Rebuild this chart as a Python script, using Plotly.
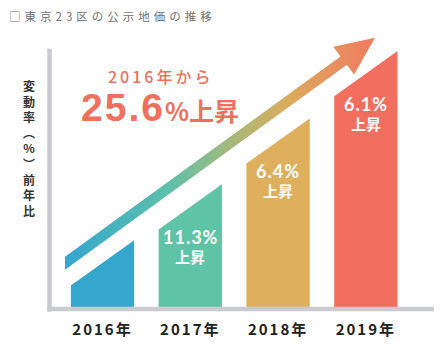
import numpy as np
import plotly.graph_objects as go

# ---------------- data ----------------
years = ["2016年", "2017年", "2018年", "2019年"]
bar_heights = [47, 104, 171, 239.5]          # visual bar height (at bar centre)
change_rates = [None, 11.3, 6.4, 6.1]         # yearly change (%)
total_change = 25.6                           # change since 2016 (%)
bar_colors = ["#35a7cc", "#5fc4a6", "#deaf5c", "#f26e5f"]
title_text = "□東京23区の公示地価の推移"
y_label = "変動率(%)前年比"
since_text = "2016年から"
rise_word = "上昇"

# ---------------- style ----------------
FONT = "Noto Sans CJK JP"
LATIN = "Lato"
BIGNUM = "Liberation Sans"
W, H = 447, 351
ML, MR, MT, MB = 50, 13, 30, 37
PW, PH = W - ML - MR, H - MT - MB
XR = [-0.598, 3.776]
YR = [0, 284]
BAR_W = 0.721
SLANT = 46                      # rise of the slanted top across a bar
PX_X = PW / (XR[1] - XR[0])     # pixels per x unit
CORAL = "#f06f5d"

def px_x(p):   # pixel column -> x data
    return (p - ML) / PX_X + XR[0]

def px_y(p):   # pixel row -> y data
    return (H - MB) - p

fig = go.Figure()

# bars with slanted tops
for i, h in enumerate(bar_heights):
    x0, x1 = i - BAR_W / 2, i + BAR_W / 2
    yl, yr = h - SLANT / 2, h + SLANT / 2
    fig.add_trace(go.Scatter(
        x=[x0, x1, x1, x0, x0], y=[0, 0, yr, yl, 0],
        mode="lines", fill="toself", fillcolor=bar_colors[i],
        line=dict(width=0), hoverinfo="skip", showlegend=False))

# trend arrow (built in pixel-like space, then mapped back to data units)
tail_x, tail_y = -0.427, bar_heights[0] - 0.5
tip_x, tip_y = 3.104, bar_heights[-1] + 36.5
T = np.array([tail_x * PX_X, tail_y])
P = np.array([tip_x * PX_X, tip_y])
u = (P - T) / np.linalg.norm(P - T)
n = np.array([-u[1], u[0]])
shaft_t, head_w, head_l = 5.3, 17.5, 39
B = P - u * head_l
cos_t = u[0]
pts = [
    T + np.array([0, -shaft_t / cos_t]),
    B - n * shaft_t,
    B - n * head_w,
    P,
    B + n * head_w,
    B + n * shaft_t,
    T + np.array([0, shaft_t / cos_t]),
]
pts.append(pts[0])
fig.add_trace(go.Scatter(
    x=[p[0] / PX_X for p in pts], y=[p[1] for p in pts],
    mode="lines", fill="toself",
    fillgradient=dict(type="horizontal", colorscale=[
        [0.0, "#35a6d0"], [0.33, "#5cc0aa"], [0.55, "#a9b878"],
        [0.72, "#dcab5d"], [1.0, "#f07b5f"]]),
    line=dict(width=0), hoverinfo="skip", showlegend=False))

annotations = []
# labels inside bars (two separate lines)
for i, r in enumerate(change_rates):
    if r is None:
        continue
    yl = bar_heights[i] - SLANT / 2
    annotations.append(dict(
        x=i, y=yl - 8, xref="x", yref="y", showarrow=False,
        text=f"<span style='letter-spacing:1px'>{r}%</span>",
        font=dict(family=LATIN, size=18, color="white", weight=700),
        xanchor="center", yanchor="middle"))
    annotations.append(dict(
        x=i, y=yl - 27.5, xref="x", yref="y", showarrow=False,
        text=rise_word,
        font=dict(family=FONT, size=15, color="white", weight=700),
        xanchor="center", yanchor="middle"))

# headline
annotations.append(dict(
    x=px_x(160), y=px_y(77), xref="x", yref="y", showarrow=False,
    text=f"<span style='letter-spacing:3px'>{since_text}</span>",
    font=dict(family=FONT, size=16, color=CORAL, weight=500),
    xanchor="center", yanchor="middle"))
annotations.append(dict(
    x=px_x(160), y=px_y(108.5), xref="x", yref="y", showarrow=False,
    text=(f"<span style='font-family:{BIGNUM};font-size:39px;letter-spacing:2px'><b>{total_change}</b></span>"
          f"<span style='font-size:25px'><b>%{rise_word}</b></span>"),
    font=dict(family=FONT, size=25, color=CORAL),
    xanchor="center", yanchor="middle"))

# title
annotations.append(dict(
    x=(7 - ML) / PW, y=(314 - 16) / PH, xref="paper", yref="paper",
    showarrow=False,
    text=f"<span style='letter-spacing:4px'>{title_text}</span>",
    font=dict(family=FONT, size=11.5, color="#707070"),
    xanchor="left", yanchor="middle"))

# vertical y-axis label (one glyph per row, single text)
vert = {"(": "︵", ")": "︶"}
annotations.append(dict(
    x=(29 - ML) / PW, y=(314 - 150) / PH,
    xref="paper", yref="paper", showarrow=False,
    text="<br>".join(vert.get(ch, ch) for ch in y_label),
    font=dict(family=FONT, size=12, color="#333333", weight=700),
    xanchor="center", yanchor="middle", align="center"))

# axis lines
shapes = [
    dict(type="line", xref="paper", yref="paper",
         x0=-0.5 / PW, x1=-0.5 / PW,
         y0=-2.7 / PH, y1=(314 - 49) / PH,
         line=dict(color="#c9cbce", width=4.5), layer="above"),
    dict(type="line", xref="paper", yref="paper",
         x0=-2.7 / PW, x1=1.0, y0=0, y1=0,
         line=dict(color="#c9cbce", width=4.5), layer="above"),
]

fig.update_layout(
    width=W, height=H, margin=dict(l=ML, r=MR, t=MT, b=MB),
    paper_bgcolor="white", plot_bgcolor="white",
    showlegend=False, annotations=annotations, shapes=shapes,
    xaxis=dict(range=XR, tickvals=list(range(len(years))),
               ticktext=[f"<span style='letter-spacing:2px'>{y}</span>" for y in years],
               tickfont=dict(family=FONT, size=15, color="#222222", weight=700),
               ticklabelstandoff=10,
               showgrid=False, zeroline=False, showline=False, ticks="",
               fixedrange=True),
    yaxis=dict(range=YR, visible=False, fixedrange=True),
)

fig.write_html("out.html")
